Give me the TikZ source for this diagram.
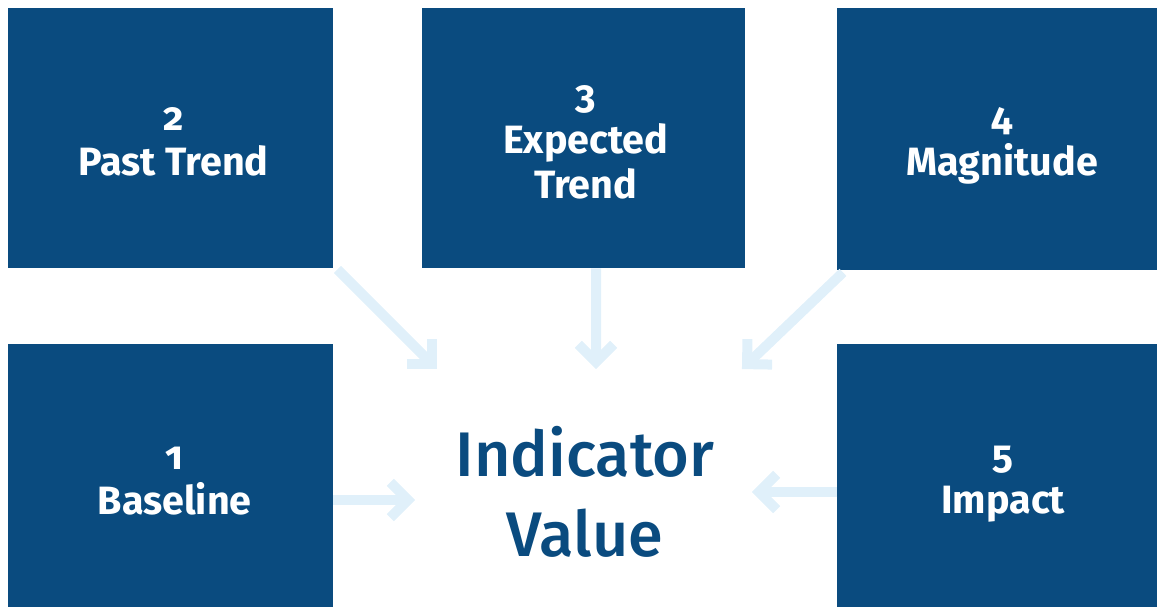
\documentclass[tikz,border=0pt]{standalone}
\usepackage{fontspec}
\newfontfamily\boxfont{Fira Sans}[Numbers=OldStyle]
\newfontfamily\ivfont{Fira Sans Medium}
\definecolor{boxblue}{HTML}{0A4B7F}
\definecolor{arrowblue}{HTML}{E0F0FA}
\begin{document}
\begin{tikzpicture}[x=1pt,y=-1pt,
  stepbox/.style={fill=boxblue, draw=none, inner sep=0pt, anchor=north west},
  steplabel/.style={text=white, align=center, inner sep=0pt,
    font=\boxfont\bfseries\fontsize{39.5}{45}\selectfont},
  arr/.style={draw=arrowblue, line width=10pt, line cap=butt},
  chev/.pic={\draw[arr, line join=miter] (-24.7,17.7) -- (-7,0) -- (-24.7,-17.7);}
]
\useasboundingbox (0,0) rectangle (1157,607);
\node[stepbox, minimum width=325pt, minimum height=260pt] (b2) at (8,8) {};
\node[stepbox, minimum width=323pt, minimum height=260pt] (b3) at (422,8) {};
\node[stepbox, minimum width=320pt, minimum height=262pt] (b4) at (837,8) {};
\node[stepbox, minimum width=325pt, minimum height=263pt] (b1) at (8,344) {};
\node[stepbox, minimum width=320pt, minimum height=263pt] (b5) at (837,344) {};
\node[steplabel] (l2) at ([shift={(3pt,-4pt)}]b2.center) {2\\Past Trend};
\node[steplabel] (l3) at ([shift={(2pt,-4pt)}]b3.center) {3\\Expected\\Trend};
\node[steplabel] (l4) at ([shift={(5pt,-7pt)}]b4.center) {4\\Magnitude};
\node[steplabel] (l1) at ([shift={(4pt,-5pt)}]b1.center) {1\\Baseline};
\node[steplabel] (l5) at ([shift={(6pt,-8pt)}]b5.center) {5\\Impact};
\node[text=boxblue, align=center, inner sep=0pt, font=\ivfont\fontsize{63}{80}\selectfont] (iv) at (585,492) {Indicator\\Value};
% arrow tips
\coordinate (t2) at (437,369);
\coordinate (t3) at (596,369);
\coordinate (t4) at (742,369);
\coordinate (t1) at (415,500);
\coordinate (t5) at (752,492);
\draw[arr, shorten >=7pt] ([shift={(4,1)}]b2.south east) -- (t2);
\pic[rotate=-45] at (t2) {chev};
\draw[arr, shorten >=7pt] ([xshift=12.5pt]b3.south) -- (t3);
\pic[rotate=-90] at (t3) {chev};
\draw[arr, shorten >=7pt] ([shift={(6,2)}]b4.south west) -- (t4);
\pic[rotate=-136] at (t4) {chev};
\draw[arr, shorten >=7pt] (b1.east |- t1) -- (t1);
\pic at (t1) {chev};
\draw[arr, shorten >=7pt] (b5.west |- t5) -- (t5);
\pic[rotate=180] at (t5) {chev};
\end{tikzpicture}
\end{document}
